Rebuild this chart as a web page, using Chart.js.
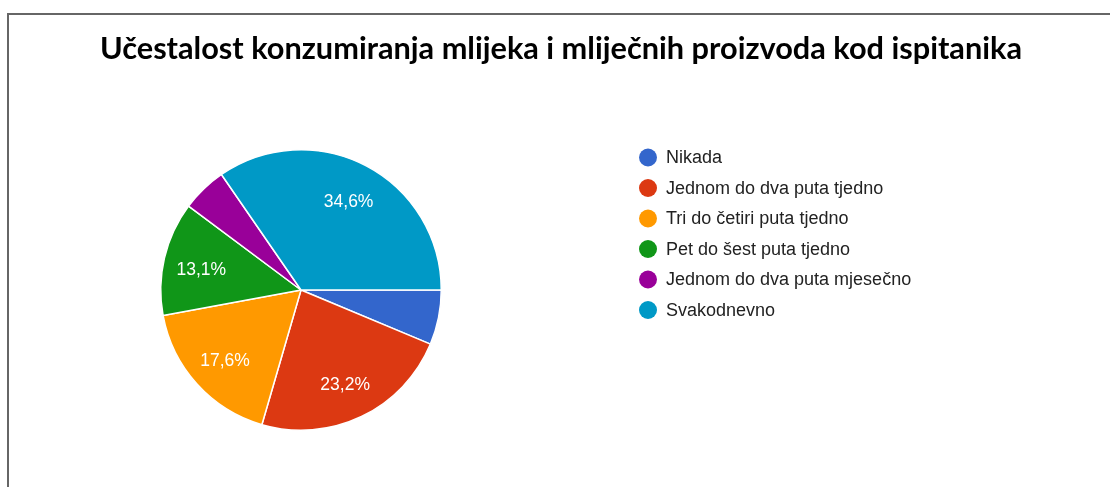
<!DOCTYPE html>
<html>
<head>
<meta charset="utf-8">
<script src="https://cdn.jsdelivr.net/npm/chart.js@4"></script>
<style>
  body { margin: 0; background: #fff; }
  #wrap { position: relative; width: 1110px; height: 487px; overflow: hidden; }
  #frame { position: absolute; left: 7px; top: 13px; width: 1200px; height: 600px;
           border-left: 2px solid #666; border-top: 2px solid #666; pointer-events: none; }
  #title { position: absolute; left: 12px; right: 0; top: 29px; text-align: center;
           font: bold 30.7px Lato, "Open Sans", sans-serif; color: #000; }
  canvas { position: absolute; left: 0; top: 0; }
</style>
</head>
<body>
<div id="wrap">
  <canvas id="pie" width="1110" height="487"></canvas>
  <div id="frame"></div>
  <div id="title">Učestalost konzumiranja mlijeka i mliječnih proizvoda kod ispitanika</div>
</div>
<script>
var categories = ['Nikada', 'Jednom do dva puta tjedno', 'Tri do četiri puta tjedno',
                  'Pet do šest puta tjedno', 'Jednom do dva puta mjesečno', 'Svakodnevno'];
var percents = [6.3, 23.2, 17.6, 13.1, 5.2, 34.6];
var colors = ['#3366cc', '#dc3912', '#ff9900', '#109618', '#990099', '#0099c6'];

// percentage text inside the bigger slices
var sliceText = {
  id: 'sliceText',
  afterDatasetsDraw: function(chart) {
    var ctx = chart.ctx;
    var meta = chart.getDatasetMeta(0);
    ctx.save();
    ctx.font = '17.5px "Liberation Sans", Arial, sans-serif';
    ctx.fillStyle = '#fff';
    ctx.textAlign = 'center';
    ctx.textBaseline = 'middle';
    meta.data.forEach(function(arc, i) {
      if (percents[i] < 8) return;
      var a = (arc.startAngle + arc.endAngle) / 2;
      var r = arc.outerRadius * 0.73;
      var txt = percents[i].toFixed(1).replace('.', ',') + '%';
      ctx.fillText(txt, arc.x + Math.cos(a) * r, arc.y + Math.sin(a) * r + 3);
    });
    ctx.restore();
  }
};

// legend on the right, google style
var sideLegend = {
  id: 'sideLegend',
  afterDraw: function(chart) {
    var ctx = chart.ctx;
    var ds = chart.data.datasets[0];
    ctx.save();
    ctx.font = '18px "Liberation Sans", Arial, sans-serif';
    ctx.textBaseline = 'middle';
    chart.data.labels.forEach(function(lab, i) {
      var y = 157.5 + i * 30.5;
      ctx.beginPath();
      ctx.arc(648, y, 9, 0, Math.PI * 2);
      ctx.fillStyle = ds.backgroundColor[i];
      ctx.fill();
      ctx.fillStyle = '#222';
      ctx.fillText(lab, 666, y + 1);
    });
    ctx.restore();
  }
};

new Chart(document.getElementById('pie'), {
  type: 'pie',
  data: {
    labels: categories,
    datasets: [{
      data: percents,
      backgroundColor: colors,
      borderColor: '#fff',
      borderWidth: 1.5
    }]
  },
  options: {
    responsive: false,
    animation: false,
    rotation: 90,
    layout: { padding: { left: 160, right: 668, top: 149, bottom: 56 } },
    plugins: {
      legend: { display: false },
      tooltip: { enabled: false }
    }
  },
  plugins: [sliceText, sideLegend]
});
</script>
</body>
</html>
